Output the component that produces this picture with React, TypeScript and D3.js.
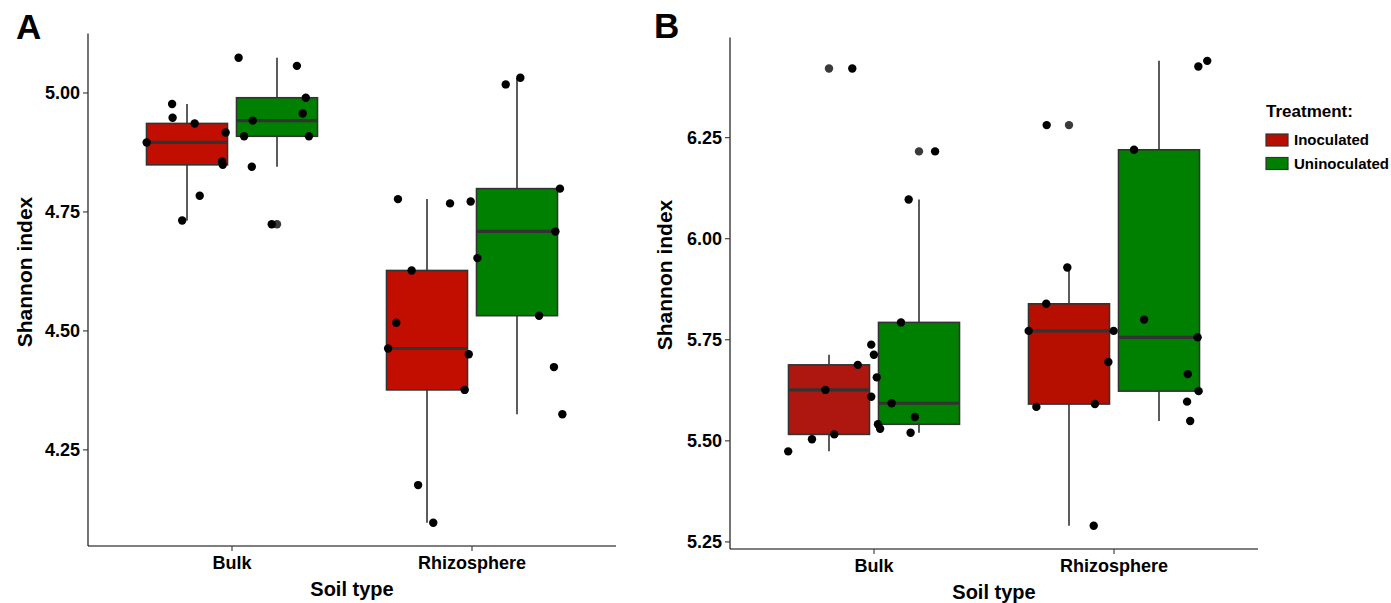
import React from "react";
import * as d3 from "d3";

// ---------- DATA ----------
const soilTypes = ["Bulk", "Rhizosphere"];
const treatments = ["Inoculated", "Uninoculated"];

// Panel A — Shannon index values (each group n = 9)
const aBulkInoculated = [4.977, 4.948, 4.936, 4.917, 4.896, 4.856, 4.849, 4.784, 4.732];
const aBulkUninoculated = [5.074, 5.057, 4.99, 4.957, 4.942, 4.909, 4.909, 4.845, 4.724];
const aRhizoInoculated = [4.777, 4.768, 4.627, 4.517, 4.463, 4.451, 4.376, 4.176, 4.097];
const aRhizoUninoculated = [5.032, 5.018, 4.799, 4.772, 4.709, 4.653, 4.532, 4.424, 4.325];

// Panel A — horizontal jitter (fraction of one category)
const aBulkInoculatedJitter = [-0.062, -0.06, 0.032, 0.161, -0.168, 0.146, 0.149, 0.053, -0.02];
const aBulkUninoculatedJitter = [-0.16, 0.083, 0.12, 0.107, -0.101, -0.137, 0.133, -0.105, -0.022];
const aRhizoInoculatedJitter = [-0.121, 0.096, -0.064, -0.128, -0.162, 0.174, 0.157, -0.037, 0.026];
const aRhizoUninoculatedJitter = [0.014, -0.047, 0.179, -0.193, 0.16, -0.165, 0.092, 0.154, 0.189];

// Panel B — Shannon index values
const bBulkInoculated = [6.421, 5.713, 5.688, 5.657, 5.626, 5.609, 5.516, 5.504, 5.474];
const bBulkUninoculated = [6.216, 6.097, 5.793, 5.738, 5.593, 5.559, 5.541, 5.53, 5.52];
const bRhizoInoculated = [6.281, 5.929, 5.839, 5.772, 5.772, 5.695, 5.591, 5.584, 5.29];
const bRhizoUninoculated = [6.44, 6.426, 6.22, 5.8, 5.756, 5.665, 5.623, 5.597, 5.549];

const bBulkInoculatedJitter = [0.097, 0.187, 0.12, 0.199, -0.015, 0.176, 0.022, -0.071, -0.17];
const bBulkUninoculatedJitter = [0.067, -0.043, -0.075, -0.199, -0.114, -0.017, -0.171, -0.162, -0.035];
const bRhizoInoculatedJitter = [-0.093, -0.007, -0.095, -0.168, 0.186, 0.164, 0.108, -0.136, 0.103];
const bRhizoUninoculatedJitter = [0.201, 0.164, -0.104, -0.062, 0.161, 0.12, 0.165, 0.117, 0.13];

const ticksA = [4.25, 4.5, 4.75, 5.0];
const ticksB = [5.25, 5.5, 5.75, 6.0, 6.25];

// ---------- STYLE ----------
const FONT = "'Liberation Sans', Arial, Helvetica, sans-serif";
const GREEN = "#008000";
const LINE = "#333333";

type Group = {
  soil: string;
  treatment: string;
  values: number[];
  jitter: number[];
  fill: string;
};

const groupsA: Group[] = [
  { soil: soilTypes[0], treatment: treatments[0], values: aBulkInoculated, jitter: aBulkInoculatedJitter, fill: "#C10E00" },
  { soil: soilTypes[0], treatment: treatments[1], values: aBulkUninoculated, jitter: aBulkUninoculatedJitter, fill: GREEN },
  { soil: soilTypes[1], treatment: treatments[0], values: aRhizoInoculated, jitter: aRhizoInoculatedJitter, fill: "#C10E00" },
  { soil: soilTypes[1], treatment: treatments[1], values: aRhizoUninoculated, jitter: aRhizoUninoculatedJitter, fill: GREEN },
];
const groupsB: Group[] = [
  { soil: soilTypes[0], treatment: treatments[0], values: bBulkInoculated, jitter: bBulkInoculatedJitter, fill: "#AE1710" },
  { soil: soilTypes[0], treatment: treatments[1], values: bBulkUninoculated, jitter: bBulkUninoculatedJitter, fill: GREEN },
  { soil: soilTypes[1], treatment: treatments[0], values: bRhizoInoculated, jitter: bRhizoInoculatedJitter, fill: "#B60F00" },
  { soil: soilTypes[1], treatment: treatments[1], values: bRhizoUninoculated, jitter: bRhizoUninoculatedJitter, fill: GREEN },
];

function boxStats(values: number[]) {
  const s = [...values].sort(d3.ascending);
  const q1 = d3.quantileSorted(s, 0.25) as number;
  const med = d3.quantileSorted(s, 0.5) as number;
  const q3 = d3.quantileSorted(s, 0.75) as number;
  const iqr = q3 - q1;
  const loF = q1 - 1.5 * iqr;
  const hiF = q3 + 1.5 * iqr;
  const inside = s.filter((v) => v >= loF && v <= hiF);
  return {
    q1,
    med,
    q3,
    wLo: d3.min(inside) as number,
    wHi: d3.max(inside) as number,
    outliers: s.filter((v) => v < loF || v > hiF),
  };
}

type PanelProps = {
  letter: string;
  groups: Group[];
  ticks: number[];
  yDomain: [number, number];
  yRange: [number, number];
  xRange: [number, number];
  letterX: number;
  letterY: number;
  yTitleX: number;
  yTitleY: number;
};

function Panel(p: PanelProps) {
  const x = d3.scaleLinear().domain([0.4, 2.6]).range(p.xRange);
  const y = d3.scaleLinear().domain(p.yDomain).range(p.yRange);
  const unit = x(2) - x(1);
  const dodge = d3.scaleOrdinal<string, number>().domain(treatments).range([-0.1875, 0.1875]);
  const boxW = 0.3375 * unit;
  const [x0, x1] = p.xRange;
  const [yb, yt] = p.yRange;
  const catX = (s: string) => x(soilTypes.indexOf(s) + 1);

  return (
    <g>
      <text x={p.letterX} y={p.letterY} fontFamily={FONT} fontWeight="bold" fontSize={35} fill="#000">
        {p.letter}
      </text>
      {/* boxes */}
      {p.groups.map((g, i) => {
        const st = boxStats(g.values);
        const cx = catX(g.soil) + dodge(g.treatment) * unit;
        return (
          <g key={"b" + i}>
            <line x1={cx} x2={cx} y1={y(st.wHi)} y2={y(st.q3)} stroke={LINE} strokeWidth={1.6} />
            <line x1={cx} x2={cx} y1={y(st.q1)} y2={y(st.wLo)} stroke={LINE} strokeWidth={1.6} />
            <rect
              x={cx - boxW / 2}
              y={y(st.q3)}
              width={boxW}
              height={y(st.q1) - y(st.q3)}
              fill={g.fill}
              stroke={LINE}
              strokeWidth={1.6}
            />
            <line x1={cx - boxW / 2} x2={cx + boxW / 2} y1={y(st.med)} y2={y(st.med)} stroke={LINE} strokeWidth={3.2} />
            {st.outliers.map((v, k) => (
              <circle key={k} cx={cx} cy={y(v)} r={4.2} fill="#3a3a3a" />
            ))}
          </g>
        );
      })}
      {/* jittered points */}
      {p.groups.map((g, i) => {
        const cx = catX(g.soil) + dodge(g.treatment) * unit;
        return (
          <g key={"p" + i}>
            {g.values.map((v, k) => (
              <circle key={k} cx={cx + g.jitter[k] * unit} cy={y(v)} r={4.2} fill="#000" />
            ))}
          </g>
        );
      })}
      {/* axes */}
      <line x1={x0} x2={x0} y1={yt} y2={yb} stroke="#000" strokeWidth={1.1} />
      <line x1={x0} x2={x1} y1={yb} y2={yb} stroke="#000" strokeWidth={1.1} />
      {p.ticks.map((t) => (
        <g key={t}>
          <line x1={x0 - 5} x2={x0} y1={y(t)} y2={y(t)} stroke={LINE} strokeWidth={1.1} />
          <text
            x={x0 - 8}
            y={y(t)}
            dy="0.35em"
            textAnchor="end"
            fontFamily={FONT}
            fontWeight="bold"
            fontSize={18}
            fill="#000"
          >
            {d3.format(".2f")(t)}
          </text>
        </g>
      ))}
      {soilTypes.map((s) => (
        <g key={s}>
          <line x1={catX(s)} x2={catX(s)} y1={yb} y2={yb + 5} stroke={LINE} strokeWidth={1.1} />
          <text x={catX(s)} y={yb + 23} textAnchor="middle" fontFamily={FONT} fontWeight="bold" fontSize={18} fill="#000">
            {s}
          </text>
        </g>
      ))}
      <text
        x={(x0 + x1) / 2}
        y={yb + 50}
        textAnchor="middle"
        fontFamily={FONT}
        fontWeight="bold"
        fontSize={20}
        fill="#000"
      >
        Soil type
      </text>
      <text
        transform={`translate(${p.yTitleX},${p.yTitleY}) rotate(-90)`}
        textAnchor="middle"
        fontFamily={FONT}
        fontWeight="bold"
        fontSize={21}
        fill="#000"
      >
        Shannon index
      </text>
    </g>
  );
}

export default function App() {
  const legendItems = [
    { label: treatments[0], fill: "#B60F00" },
    { label: treatments[1], fill: GREEN },
  ];
  return (
    <svg
      width={1391}
      height={603}
      style={{ position: "absolute", left: 0, top: 0, background: "#fff" }}
    >
      <rect width={1391} height={603} fill="#fff" />
      <Panel
        letter="A"
        groups={groupsA}
        ticks={ticksA}
        yDomain={[4.048, 5.125]}
        yRange={[546, 33.5]}
        xRange={[88, 616]}
        letterX={16}
        letterY={39}
        yTitleX={32}
        yTitleY={272}
      />
      <Panel
        letter="B"
        groups={groupsB}
        ticks={ticksB}
        yDomain={[5.2325, 6.4975]}
        yRange={[549, 37.6]}
        xRange={[730, 1258]}
        letterX={654}
        letterY={38}
        yTitleX={672}
        yTitleY={275}
      />
      {/* legend */}
      <text x={1266} y={117} fontFamily={FONT} fontWeight="bold" fontSize={17} fill="#000">
        Treatment:
      </text>
      {legendItems.map((it, i) => (
        <g key={it.label}>
          <rect x={1266} y={134 + i * 23.5} width={22} height={12} fill={it.fill} stroke={LINE} strokeWidth={1.2} />
          <text
            x={1294}
            y={140 + i * 23.5}
            dy="0.35em"
            fontFamily={FONT}
            fontWeight="bold"
            fontSize={15}
            fill="#000"
          >
            {it.label}
          </text>
        </g>
      ))}
    </svg>
  );
}
